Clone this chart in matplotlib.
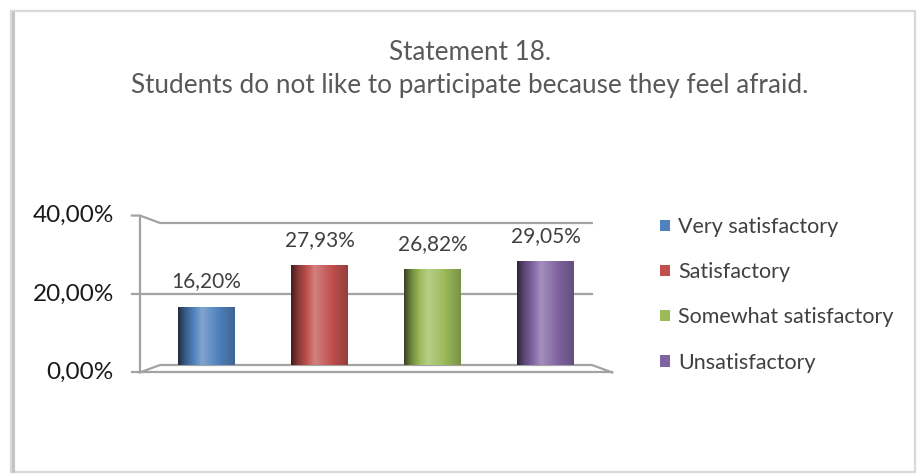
import numpy as np
import matplotlib.pyplot as plt
import matplotlib.colors as mcolors
from matplotlib.lines import Line2D
from matplotlib.patches import Patch, Rectangle

plt.rcParams['font.family'] = ['Lato', 'DejaVu Sans']

# data
categories = ["Very satisfactory", "Satisfactory", "Somewhat satisfactory", "Unsatisfactory"]
values = [16.20, 27.93, 26.82, 29.05]
value_labels = ["16,20%", "27,93%", "26,82%", "29,05%"]
y_ticks = [0, 20, 40]
y_tick_labels = ["0,00%", "20,00%", "40,00%"]
colors = ["#4F81BD", "#C0504D", "#9BBB59", "#8064A2"]
title_lines = ["Statement 18.", "Students do not like to participate because they feel afraid."]

W, H = 917, 475
fig = plt.figure(figsize=(W / 100, H / 100), dpi=100)
fig.patch.set_facecolor('white')


def fx(px):
    return px / W


def fy(py):
    return 1 - py / H


# outer chart border
fig.add_artist(Rectangle((fx(11), fy(472)), fx(904), (461) / H, transform=fig.transFigure,
                         fill=False, edgecolor='#d9d9d9', lw=1.6))
fig.add_artist(Line2D([fx(12.5), fx(12.5)], [fy(13), fy(471)], transform=fig.transFigure,
                      color='#c4c4c4', lw=2.2))

# plot area (x in category units, y in percent)
ax = fig.add_axes([fx(130), fy(375), fx(485), 165 / H])
x = np.arange(len(values))
xmin, xmax = -0.677, 3.615
ymin, ymax = -2.82, 43.66
ax.axis('off')

# pseudo 3D walls: back wall from -0.41..3.41, front edge -0.59..3.59
bx0, bx1 = -0.41, 3.41
fx0, fx1 = -0.59, 3.59
tick0 = -0.66
depth = 1.105  # front-edge stretch around the 20% line


def front(v):
    return 20 + (v - 20) * depth


gc = '#a3a3a3'
lw = 1.6
top, bot = max(y_ticks), min(y_ticks)
# back wall gridlines
for v in y_ticks:
    if v == top:
        ax.plot([tick0, fx0, bx0, bx1], [front(v), front(v), v, v], color=gc, lw=lw, zorder=1)
    elif v == bot:
        ax.plot([tick0, fx1], [front(v), front(v)], color=gc, lw=lw, zorder=1)
        ax.plot([fx0, bx0, bx1, fx1], [front(v), v, v, front(v)], color=gc, lw=lw, zorder=1)
    else:
        ax.plot([tick0, bx1], [v, v], color=gc, lw=lw, zorder=1)
ax.plot([fx0, fx0], [front(bot), front(top)], color=gc, lw=lw, zorder=1)

# tick labels
for v, lab in zip(y_ticks, y_tick_labels):
    ax.text(-0.82, front(v), lab, ha='right', va='center', fontsize=17.5, color='#1a1a1a')

# cylinder-style bars with a horizontal shading gradient
width = 0.5
t_anchor = [0.0, 0.12, 0.42, 0.75, 1.0]
f_anchor = [0.36, 0.7, 1.28, 0.97, 0.78]
tt = np.linspace(0, 1, 120)
prof = np.interp(tt, t_anchor, f_anchor)

bars = ax.bar(x, values, width=width, color='none', zorder=3)
for rect, c in zip(bars.patches, colors):
    base = np.array(mcolors.to_rgb(c))
    rgb = np.empty((1, len(tt), 3))
    for i, f in enumerate(prof):
        rgb[0, i] = base * f if f <= 1 else base + (1 - base) * (f - 1)
    x0 = rect.get_x()
    ax.imshow(rgb, extent=[x0, x0 + rect.get_width(), 0, rect.get_height()],
              aspect='auto', interpolation='bilinear', zorder=3)

for xi, v, lab in zip(x, values, value_labels):
    ax.annotate(lab, (xi, v), xytext=(0, 20), textcoords='offset pixels',
                ha='center', va='baseline', fontsize=15, color='#404040', zorder=4)

ax.set_xlim(xmin, xmax)
ax.set_ylim(ymin, ymax)

# title
fig.text(fx(470), fy(60), title_lines[0], ha='center', va='baseline', fontsize=18.8, color='#595959')
fig.text(fx(470), fy(93), title_lines[1], ha='center', va='baseline', fontsize=18.8, color='#595959')

# legend
handles = [Patch(facecolor=c, edgecolor='none') for c in colors]
fig.legend(handles, categories, loc='upper left', bbox_to_anchor=(fx(660), fy(217)),
           frameon=False, fontsize=15.5, handlelength=0.45, handleheight=0.45,
           handletextpad=0.4, labelspacing=1.17, borderpad=0, borderaxespad=0,
           labelcolor='#404040')

fig.savefig('out.png', dpi=100)
